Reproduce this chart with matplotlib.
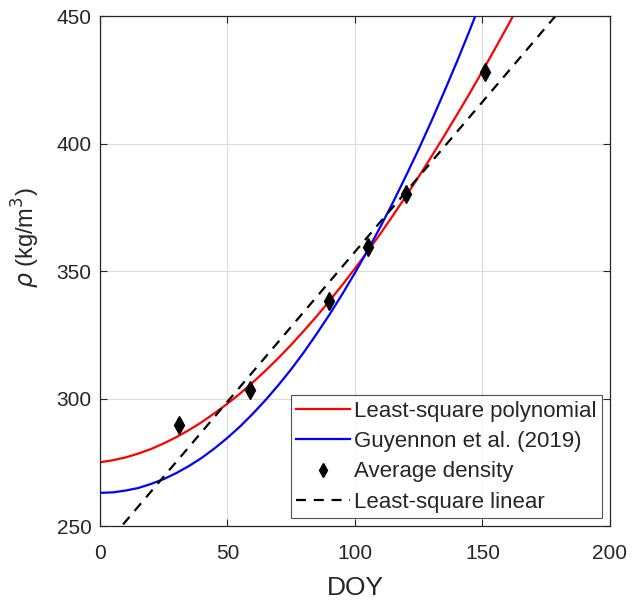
import numpy as np
import matplotlib
matplotlib.use("Agg")
import matplotlib.pyplot as plt

# values
doy_obs = [31, 59, 90, 105, 120, 151]
rho_obs = [289.6, 303.2, 338.4, 359.3, 380.1, 427.9]

#least-square polynomial curve, read every 5 DOY
doy_poly = list(range(0, 170, 5))
rho_poly = [275.0, 275.8, 276.9, 278.4, 280.2, 282.4, 284.9, 287.7, 290.8, 294.3,
            298.0, 302.0, 306.4, 311.0, 315.9, 321.1, 326.6, 332.3, 338.3, 344.5,
            351.0, 357.7, 364.7, 371.9, 379.4, 387.0, 394.9, 403.0, 411.3, 419.7,
            428.4, 437.3, 446.3, 455.6]

#Guyennon et al. (2019) curve
doy_guy = list(range(0, 155, 5))
rho_guy = [263.0, 263.2, 263.9, 264.9, 266.5, 268.4, 270.8, 273.6, 276.8, 280.5,
           284.6, 289.1, 294.1, 299.5, 305.3, 311.5, 318.2, 325.4, 332.9, 340.9,
           349.3, 358.1, 367.4, 377.1, 387.3, 397.8, 408.8, 420.3, 432.1, 444.4,
           457.2]

#least-square linear line
doy_lin = [0, 180]
rho_lin = [240.0, 451.6]

plt.rcParams["font.family"] = ["Liberation Sans", "DejaVu Sans"]
plt.rcParams["mathtext.fontset"] = "dejavusans"

fig = plt.figure(figsize=(6.35, 6.0), dpi=100)
ax = fig.add_axes([0.1575, 0.1233, 0.803, 0.85])

ax.plot(doy_poly, rho_poly, color="#ff0000", lw=1.6, label="Least-square polynomial")
ax.plot(doy_guy, rho_guy, color="#0000ff", lw=1.6, label="Guyennon et al. (2019)")
ax.plot(doy_obs, rho_obs, linestyle="none", marker="d", color="black",
        markersize=9, label="Average density")
ax.plot(doy_lin, rho_lin, color="black", lw=1.6, linestyle=(0, (4.5, 3.5)),
        label="Least-square linear")

ax.set_xlim(0, 200)
ax.set_ylim(250, 450)
ax.set_xticks([0, 50, 100, 150, 200])
ax.set_yticks([250, 300, 350, 400, 450])
ax.grid(True, color="#dcdcdc", lw=0.8)
ax.set_axisbelow(True)

ax.tick_params(direction="in", top=True, right=True, length=5, width=0.8,
               labelsize=15, colors="#262626", pad=6)
ax.tick_params(axis="x", pad=13)
for s in ax.spines.values():
    s.set_color("#262626")
    s.set_linewidth(0.9)

ax.set_xlabel("DOY", fontsize=19, color="#262626", labelpad=9)
ax.set_ylabel(r"$\rho$ (kg/m$^3$)", fontsize=17, color="#262626")
ax.yaxis.set_label_coords(-0.114, 0.565)

leg = ax.legend(loc="lower right", fontsize=16, frameon=True, fancybox=False,
                edgecolor="#262626", handlelength=2.4, handletextpad=0.2,
                labelspacing=0.42, borderpad=0.25, borderaxespad=0.35,
                markerscale=0.75)
leg.get_frame().set_linewidth(0.8)
for t in leg.get_texts():
    t.set_color("#262626")

fig.savefig("out.png", dpi=100, facecolor="white")
